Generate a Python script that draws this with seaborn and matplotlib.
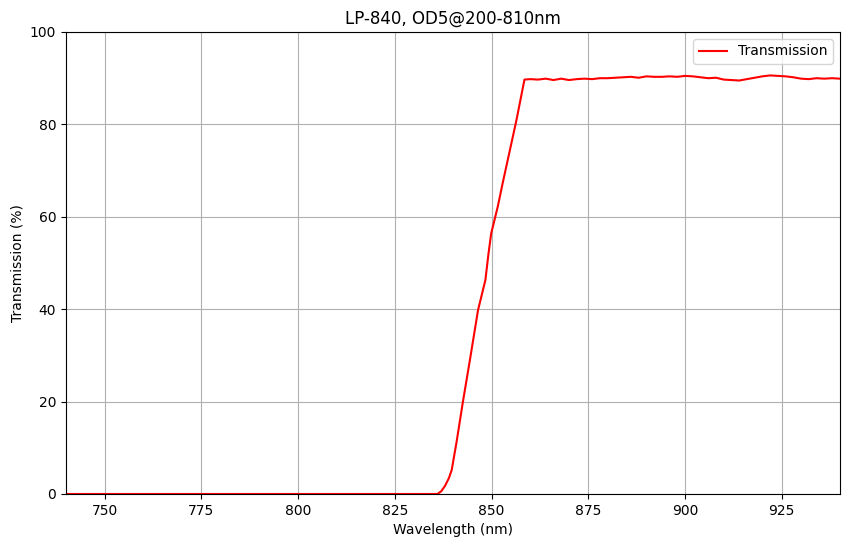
import matplotlib
matplotlib.use('Agg')
import matplotlib.pyplot as plt
import seaborn as sns
import pandas as pd

# Transmission curve
wavelength = [740, 760, 780, 800, 820, 836.0, 837.0, 838.0, 839.0, 839.7,
              841.0, 842.6, 844.5, 846.5, 848.4, 849.2, 849.9, 851.6, 852.9,
              854.7, 856.4, 858.5,
              860, 862, 864, 866, 868, 870, 872, 874, 876, 878, 880, 882,
              884, 886, 888, 890, 892, 894, 896, 898, 900, 902, 904, 906,
              908, 910, 912, 914, 916, 918, 920, 922, 924, 926, 928, 930,
              932, 934, 936, 938, 940]
transmission = [0, 0, 0, 0, 0, 0, 0.6, 1.8, 3.5, 5.2,
                11.5, 20.0, 29.5, 39.8, 46.3, 52.0, 56.4, 62.2, 67.4,
                74.3, 80.8, 89.7,
                89.8, 89.7, 89.9, 89.6, 89.9, 89.6, 89.8, 89.9, 89.8, 90.0, 90.0, 90.1,
                90.2, 90.3, 90.1, 90.4, 90.3, 90.3, 90.4, 90.3, 90.5, 90.4, 90.2, 90.0,
                90.1, 89.7, 89.6, 89.5, 89.8, 90.1, 90.4, 90.6, 90.5, 90.4, 90.2, 89.9,
                89.8, 90.0, 89.9, 90.0, 89.9]

df = pd.DataFrame({'Wavelength': wavelength, 'Transmission': transmission})

fig, ax = plt.subplots(figsize=(8.5, 5.47), dpi=100)
sns.lineplot(data=df, x='Wavelength', y='Transmission', color='red',
             label='Transmission', ax=ax)
ax.set_xlim(740, 940)
ax.set_ylim(0, 100)
ax.set_title('LP-840, OD5@200-810nm')
ax.set_xlabel('Wavelength (nm)')
ax.set_ylabel('Transmission (%)')
ax.grid(True)
ax.legend(loc='upper right')
fig.subplots_adjust(left=0.0776, right=0.988, top=0.9415, bottom=0.0969)
plt.savefig('out.png')
